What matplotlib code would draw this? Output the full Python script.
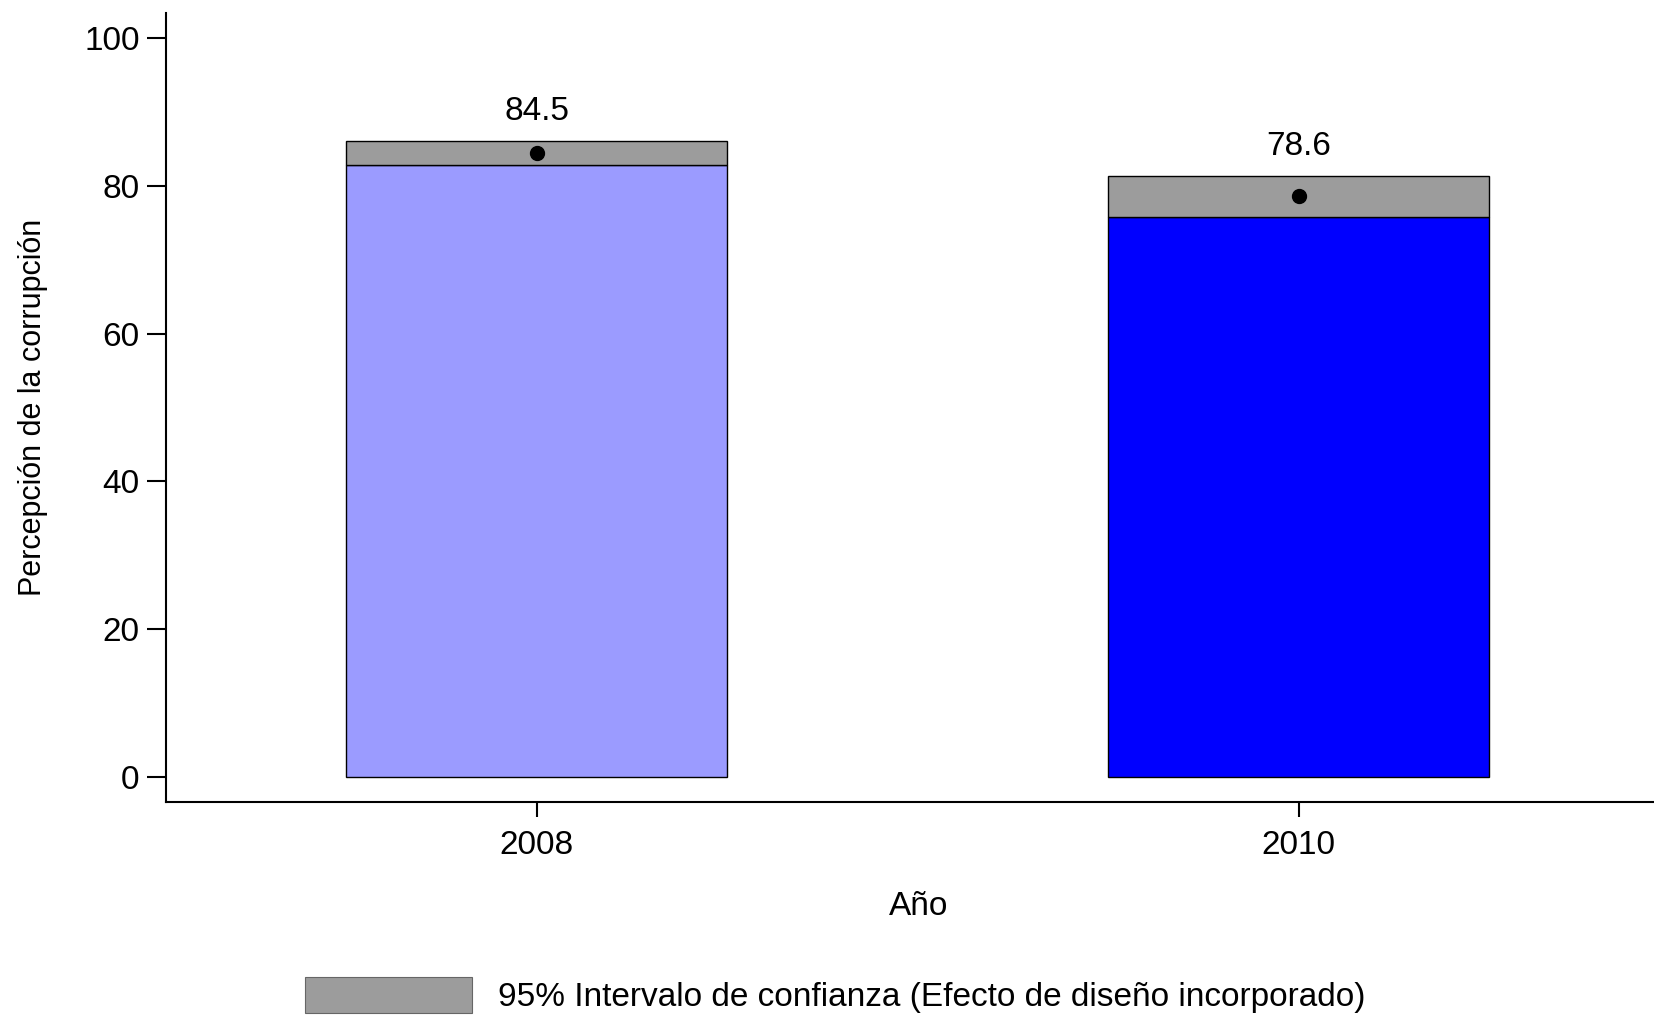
import numpy as np
import matplotlib.pyplot as plt
from matplotlib.patches import Patch

plt.rcParams['font.family'] = ['Liberation Sans', 'DejaVu Sans']

years = ['2008', '2010']
means = [84.5, 78.6]
ci_low = [82.9, 75.8]
ci_high = [86.1, 81.4]
bar_colors = ['#9b9bff', '#0000ff']
ci_color = '#9c9c9c'

fig = plt.figure(figsize=(16.54, 10.15), dpi=100)
ax = fig.add_axes([0.1004, 0.2101, 0.8996, 0.7768])

x = np.arange(len(years))
low = np.array(ci_low)
high = np.array(ci_high)

ax.bar(x, low, width=0.5, color=bar_colors, edgecolor='black', linewidth=1.0)
ax.bar(x, high - low, bottom=low, width=0.5, color=ci_color, edgecolor='black', linewidth=1.0)
ax.plot(x, means, 'o', color='black', ms=10, zorder=5)

for xi, m, h in zip(x, means, high):
    ax.annotate(f'{m:.1f}', (xi, h), xytext=(0, 10), textcoords='offset points',
                ha='center', va='bottom', fontsize=24)

ax.set_xlim(-0.486, 1.466)
ax.set_ylim(-3.39, 103.4)
ax.set_xticks(x)
ax.set_xticklabels(years)
ax.set_yticks([0, 20, 40, 60, 80, 100])

for s in ['top', 'right']:
    ax.spines[s].set_visible(False)
for s in ['left', 'bottom']:
    ax.spines[s].set_linewidth(1.5)
ax.tick_params(axis='y', length=14, width=1.5, labelsize=24, pad=5)
ax.tick_params(axis='x', length=11, width=1.5, labelsize=24, pad=9)

ax.set_xlabel('Año', fontsize=24)
ax.xaxis.set_label_coords(0.506, -0.113)
ax.set_ylabel('Percepción de la corrupción', fontsize=22, labelpad=26)

handle = Patch(facecolor=ci_color, edgecolor='#666666', linewidth=0.8)
fig.legend([handle], ['95% Intervalo de confianza (Efecto de diseño incorporado)'],
           loc='upper left', bbox_to_anchor=(0.1844, 0.0374), frameon=False,
           fontsize=24, handlelength=5.0, handleheight=1.3, handletextpad=0.8,
           borderpad=0, borderaxespad=0)

fig.savefig('out.png', dpi=100)
